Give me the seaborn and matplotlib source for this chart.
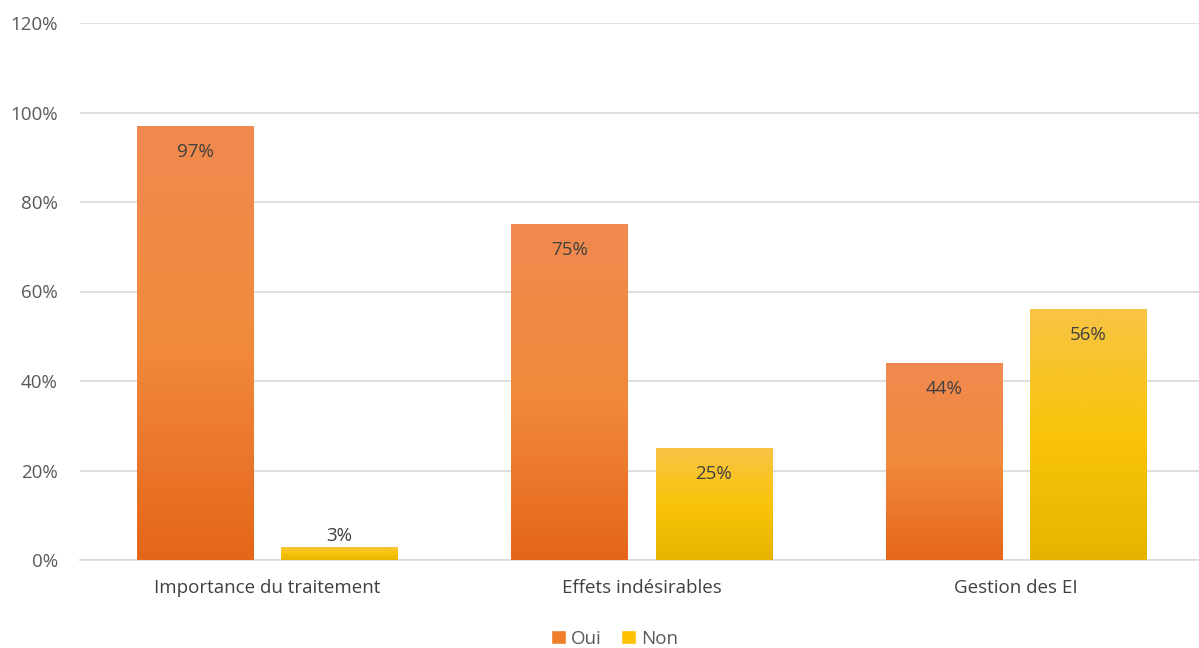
import numpy as np
import pandas as pd
import seaborn as sns
import matplotlib.pyplot as plt
from matplotlib.colors import LinearSegmentedColormap

categories = ['Importance du traitement', 'Effets indésirables', 'Gestion des EI']
oui = [97, 75, 44]
non = [3, 25, 56]
series = ['Oui', 'Non']

sns.set_theme(style='white')
plt.rcParams['font.family'] = ['Open Sans', 'DejaVu Sans']

df = pd.DataFrame({
    'Catégorie': categories * 2,
    'Réponse': ['Oui'] * 3 + ['Non'] * 3,
    'Valeur': oui + non,
})

colors = {'Oui': '#F07D2A', 'Non': '#FFC000'}
grads = {
    'Oui': ['#E4661A', '#F28A3C', '#F0894F'],
    'Non': ['#E6B400', '#FAC40A', '#F8C444'],
}

fig = plt.figure(figsize=(11.99, 6.48), dpi=100)
ax = fig.add_axes([80 / 1199, 88 / 648, 1123 / 1199, 537 / 648])

sns.barplot(data=df, x='Catégorie', y='Valeur', hue='Réponse',
            palette=colors, saturation=1, width=0.77, gap=0.195, ax=ax,
            legend=True)

# gradient fill on each bar
for cont, name in zip(ax.containers, series):
    cmap = LinearSegmentedColormap.from_list(name, grads[name])
    for bar in cont:
        x0, y0 = bar.get_x(), bar.get_y()
        w, h = bar.get_width(), bar.get_height()
        img = ax.imshow(np.linspace(0, 1, 100).reshape(-1, 1), cmap=cmap,
                        extent=[x0, x0 + w, y0, y0 + h], origin='lower',
                        aspect='auto', zorder=3)
        img.set_clip_path(bar)
        bar.set_edgecolor('none')

    for bar in cont:
        v = bar.get_height()
        xc = bar.get_x() + bar.get_width() / 2
        if v > 10:
            ax.text(xc, v - 5.8, f'{v:.0f}%', ha='center', va='center',
                    fontsize=13.5, color='#404040', zorder=5)
        else:
            ax.text(xc, v + 2.3, f'{v:.0f}%', ha='center', va='center',
                    fontsize=13.5, color='#404040', zorder=5)

ax.set_xlim(-0.5, 2.5)
ax.set_ylim(0, 120)
ax.set_yticks(range(0, 121, 20))
ax.set_yticklabels([f'{t}%' for t in range(0, 121, 20)])
ax.yaxis.grid(True, color='#D9D9D9', linewidth=1.2)
ax.set_axisbelow(True)
for s in ['top', 'right', 'left']:
    ax.spines[s].set_visible(False)
ax.spines['bottom'].set_color('#D9D9D9')
ax.spines['bottom'].set_linewidth(1.2)
ax.tick_params(axis='y', length=0, pad=16, labelsize=13.5, labelcolor='#595959')
ax.tick_params(axis='x', length=0, pad=14, labelsize=13.5, labelcolor='#404040')
ax.set_xlabel('')
ax.set_ylabel('')

handles, labels = ax.get_legend_handles_labels()
ax.legend(handles, labels, loc='upper center', bbox_to_anchor=(0.476, -0.098),
          ncol=2, frameon=False, fontsize=13.5, handlelength=0.8,
          handleheight=0.8, handletextpad=0.3, columnspacing=1.0,
          labelcolor='#595959')

fig.savefig('out.png', dpi=100)
